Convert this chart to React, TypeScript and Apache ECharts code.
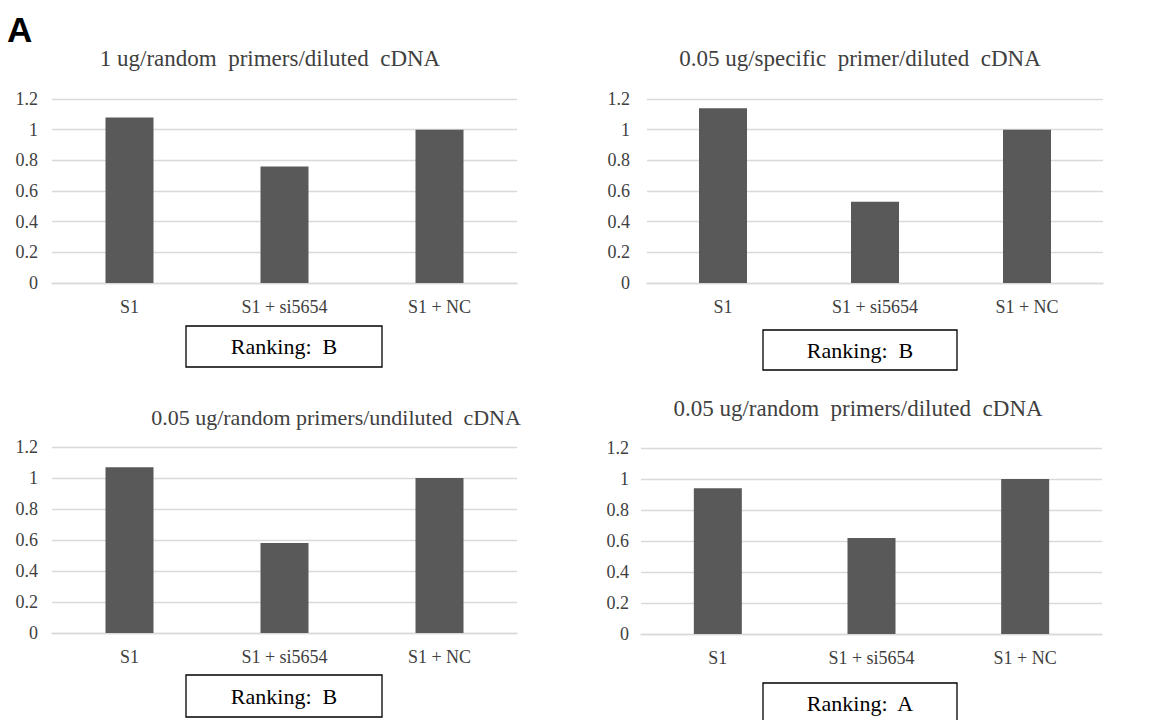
import React, { useEffect, useRef } from "react";
import * as echarts from "echarts";

const categories = ["S1", "S1 + si5654", "S1 + NC"];
const titles = [
  "1 ug/random  primers/diluted  cDNA",
  "0.05 ug/specific  primer/diluted  cDNA",
  "0.05 ug/random primers/undiluted  cDNA",
  "0.05 ug/random  primers/diluted  cDNA",
];
const valuesTL = [1.08, 0.76, 1.0];
const valuesTR = [1.14, 0.53, 1.0];
const valuesBL = [1.07, 0.58, 1.0];
const valuesBR = [0.94, 0.62, 1.0];
const rankings = ["Ranking:  B", "Ranking:  B", "Ranking:  B", "Ranking:  A"];
const yTicks = { min: 0, max: 1.2, interval: 0.2 };

const panelSeries = [valuesTL, valuesTR, valuesBL, valuesBR];

// layout (pixels)
const grids = [
  { left: 52, top: 99, width: 465, height: 184 },
  { left: 647, top: 99, width: 456, height: 184 },
  { left: 52, top: 447, width: 465, height: 186 },
  { left: 641, top: 448, width: 461, height: 186 },
];
const titlePos = [
  { x: 270, y: 58 },
  { x: 860, y: 58 },
  { x: 336, y: 417 },
  { x: 858, y: 408 },
];
const titleSizes = [23, 23, 22, 23];
const boxes = [
  { x: 186, y: 326, w: 196, h: 41 },
  { x: 763, y: 330, w: 194, h: 40 },
  { x: 186, y: 675, w: 196, h: 42 },
  { x: 763, y: 683, w: 194, h: 40 },
];
const labelMargins = [14, 17, 14, 12];

const SERIF = "Liberation Serif";
const BAR = "#595959";
const GRIDC = "#d9d9d9";
const TXT = "#404040";

export default function App() {
  const ref = useRef<HTMLDivElement>(null);
  useEffect(() => {
    if (!ref.current) return;
    const chart = echarts.init(ref.current, undefined, { renderer: "svg" });
    const graphic: any[] = [
      {
        type: "text",
        x: 7,
        y: 12,
        style: {
          text: "A",
          font: "bold 35px 'Liberation Sans', Arial, sans-serif",
          fill: "#000",
        },
      },
    ];
    titles.forEach((t, i) => {
      graphic.push({
        type: "text",
        x: titlePos[i].x,
        y: titlePos[i].y,
        style: {
          text: t,
          fontFamily: SERIF,
          fontSize: titleSizes[i],
          fill: TXT,
          textAlign: "center",
          textVerticalAlign: "middle",
        },
      });
    });
    boxes.forEach((b, i) => {
      graphic.push({
        type: "rect",
        shape: { x: b.x, y: b.y, width: b.w, height: b.h },
        style: { fill: "#fff", stroke: "#000", lineWidth: 1.3 },
      });
      graphic.push({
        type: "text",
        x: b.x + b.w / 2,
        y: b.y + b.h / 2,
        style: {
          text: rankings[i],
          fontFamily: SERIF,
          fontSize: 22,
          fill: "#000",
          textAlign: "center",
          textVerticalAlign: "middle",
        },
      });
    });

    const option: any = {
      animation: false,
      backgroundColor: "#fff",
      grid: grids.map((g) => ({ ...g, containLabel: false })),
      xAxis: grids.map((_, i) => ({
        type: "category",
        gridIndex: i,
        data: categories,
        axisLine: { show: true, lineStyle: { color: GRIDC, width: 1.3 } },
        axisTick: { show: false },
        axisLabel: {
          color: TXT,
          fontFamily: SERIF,
          fontSize: 18,
          margin: 15,
        },
      })),
      yAxis: grids.map((_, i) => ({
        type: "value",
        gridIndex: i,
        min: yTicks.min,
        max: yTicks.max,
        interval: yTicks.interval,
        axisLine: { show: false },
        axisTick: { show: false },
        splitLine: { lineStyle: { color: GRIDC, width: 1.3 } },
        axisLabel: {
          color: TXT,
          fontFamily: SERIF,
          fontSize: 18,
          margin: labelMargins[i],
        },
      })),
      series: panelSeries.map((vals, i) => ({
        type: "bar",
        xAxisIndex: i,
        yAxisIndex: i,
        data: vals,
        barWidth: 48,
        itemStyle: { color: BAR },
      })),
      graphic,
    };
    chart.setOption(option);
    return () => chart.dispose();
  }, []);
  return (
    <div
      ref={ref}
      style={{ position: "fixed", left: 0, top: 0, width: 1167, height: 720, background: "#fff" }}
    />
  );
}
